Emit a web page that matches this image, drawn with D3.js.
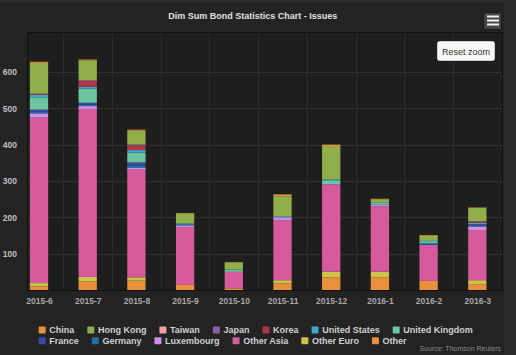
<!DOCTYPE html>
<html>
<head>
<meta charset="utf-8">
<script src="https://cdn.jsdelivr.net/npm/d3@7"></script>
<style>
  html, body { margin: 0; padding: 0; background: #2b2b2b; }
  svg { display: block; font-family: "Liberation Sans", Arial, sans-serif; }
</style>
</head>
<body>
<svg id="chart" width="516" height="355"></svg>
<script>
// ---- data ----
const categories = ["2015-6","2015-7","2015-8","2015-9","2015-10","2015-11","2015-12","2016-1","2016-2","2016-3"];
const seriesNames = ["China","Hong Kong","Taiwan","Japan","Korea","United States","United Kingdom","France","Germany","Luxembourg","Other Asia","Other Euro","Other"];
const seriesColors = ["#e8923a","#90ae4a","#f0a0a0","#8a5fa8","#b0344a","#3fa7c9","#6cc4a0","#3a4aa8","#1f6f9f","#d08ee8","#d45a9c","#cdc24a","#e8913a"];
const china        = [3, 2, 3, 1, 1, 5, 4, 1, 2, 1];
const hongKong     = [85, 55, 38, 28, 20, 55, 92, 9, 14, 37];
const taiwan       = [0, 0, 0, 0, 0, 0, 0, 0, 0, 0];
const japan        = [0, 2, 2, 0, 0, 0, 0, 0, 0, 0];
const korea        = [3, 16, 13, 0, 0, 0, 0, 0, 0, 4];
const unitedStates = [7, 5, 7, 3, 1, 3, 4, 0, 3, 4];
const unitedKingdom= [34, 39, 27, 0, 5, 0, 9, 6, 4, 0];
const france       = [6, 5, 8, 1, 0, 0, 0, 0, 4, 3];
const germany      = [4, 4, 6, 1, 0, 0, 0, 0, 0, 3];
const luxembourg   = [12, 8, 6, 5, 0, 8, 0, 5, 2, 10];
const otherAsia    = [455, 462, 296, 159, 45, 165, 241, 180, 97, 138];
const otherEuro    = [9, 12, 9, 0, 1, 9, 15, 15, 0, 11];
const other        = [10, 24, 26, 14, 4, 18, 35, 35, 25, 16];
const yTicks = [100, 200, 300, 400, 500, 600];
const titleText = "Dim Sum Bond Statistics Chart - Issues";
const sourceText = "Source: Thomson Reuters";

const seriesValues = [china, hongKong, taiwan, japan, korea, unitedStates, unitedKingdom, france, germany, luxembourg, otherAsia, otherEuro, other];

// build table for stacking
const table = categories.map((c, i) => {
  const row = { cat: c, idx: i };
  seriesNames.forEach((s, k) => row[s] = seriesValues[k][i]);
  return row;
});
// reversed stacks: last series at bottom
const stackOrder = seriesNames.slice().reverse();
const stacked = d3.stack().keys(stackOrder)(table);

const svg = d3.select("#chart");
const W = 516, H = 355;
const plot = { left: 28, right: 502, top: 33, bottom: 290 };

// backgrounds
svg.append("rect").attr("x", 0).attr("y", 0).attr("width", W).attr("height", H).attr("fill", "#2b2b2b");
svg.append("rect").attr("x", 0).attr("y", 3).attr("width", 504).attr("height", H - 3).attr("fill", "#232323");
svg.append("rect").attr("x", plot.left).attr("y", plot.top)
  .attr("width", plot.right - plot.left).attr("height", plot.bottom - plot.top)
  .attr("fill", "#1e1e1e");

const x = d3.scaleLinear().domain([-0.226, 9.507]).range([plot.left, plot.right]);
const y = d3.scaleLinear().domain([0, 707]).range([plot.bottom, plot.top]);
const barW = 18.3;

const clip = svg.append("clipPath").attr("id", "pc").append("rect")
  .attr("x", plot.left).attr("y", plot.top).attr("width", plot.right - plot.left).attr("height", plot.bottom - plot.top);

// grid lines
const grid = svg.append("g");
grid.selectAll("line.h").data(yTicks).enter().append("line")
  .attr("x1", plot.left).attr("x2", plot.right)
  .attr("y1", d => Math.round(y(d)) + 0.5).attr("y2", d => Math.round(y(d)) + 0.5)
  .attr("stroke", "#303030").attr("stroke-width", 1);
const boundaries = d3.range(0, categories.length - 1).map(i => i + 0.5);
grid.selectAll("line.v").data(boundaries).enter().append("line")
  .attr("y1", plot.top).attr("y2", plot.bottom)
  .attr("x1", d => Math.round(x(d)) + 0.5).attr("x2", d => Math.round(x(d)) + 0.5)
  .attr("stroke", "#2c2c2c").attr("stroke-width", 1);

// bars
const colorOf = d3.scaleOrdinal().domain(seriesNames).range(seriesColors);
const bars = svg.append("g").attr("clip-path", "url(#pc)");
bars.selectAll("g").data(stacked).enter().append("g")
  .attr("fill", d => colorOf(d.key))
  .selectAll("rect").data(d => d).enter().append("rect")
  .attr("x", d => x(d.data.idx) - barW / 2)
  .attr("width", barW)
  .attr("y", d => y(d[1]))
  .attr("height", d => Math.max(0, y(d[0]) - y(d[1])));

// plot border
svg.append("rect").attr("x", plot.left - 0.5).attr("y", plot.top - 0.5)
  .attr("width", plot.right - plot.left + 1).attr("height", plot.bottom - plot.top + 1)
  .attr("fill", "none").attr("stroke", "#111").attr("stroke-width", 1);

// y axis labels
const yAxis = d3.axisLeft(y).tickValues(yTicks).tickSize(0).tickPadding(0);
const gy = svg.append("g").attr("transform", "translate(17,0)").call(yAxis);
gy.select(".domain").remove();
gy.selectAll("text").attr("fill", "#c0c0c0").attr("font-size", "8.5px").attr("font-weight", "bold")
  .attr("font-family", "Liberation Sans, Arial, sans-serif").attr("dy", "0.35em");

// x axis labels
const xAxis = d3.axisBottom(x).tickValues(d3.range(categories.length)).tickFormat(i => categories[i]).tickSize(0).tickPadding(0);
const gx = svg.append("g").attr("transform", "translate(0,298)").call(xAxis);
gx.select(".domain").remove();
gx.selectAll("text").attr("fill", "#a8a8a8").attr("font-size", "8.5px").attr("font-weight", "bold")
  .attr("font-family", "Liberation Sans, Arial, sans-serif").attr("dy", "0.71em");

// title
svg.append("text").attr("x", 252.7).attr("y", 19).attr("text-anchor", "middle")
  .attr("fill", "#e0e0e0").attr("font-size", "9px").attr("font-weight", "bold").text(titleText);

// menu button
const menu = svg.append("g");
menu.append("rect").attr("x", 483.5).attr("y", 12.5).attr("width", 18).attr("height", 17).attr("rx", 2)
  .attr("fill", "#444").attr("stroke", "#1a1a1a");
[16.5, 20.5, 24.5].forEach(yy => menu.append("line").attr("x1", 487).attr("x2", 499).attr("y1", yy).attr("y2", yy)
  .attr("stroke", "#f0f0f0").attr("stroke-width", 2));

// reset zoom button
svg.append("rect").attr("x", 437.5).attr("y", 41.5).attr("width", 57).attr("height", 19).attr("rx", 2)
  .attr("fill", "#f7f7f7").attr("stroke", "#ccc");
svg.append("text").attr("x", 466).attr("y", 54.5).attr("text-anchor", "middle")
  .attr("fill", "#333").attr("font-size", "9px").text("Reset zoom");

// legend (flow layout)
const legend = svg.append("g");
let lx = 38.7, row = 0;
const rowY = [330, 340.7], maxX = 490, itemGap = 13;
seriesNames.forEach((name, k) => {
  const t = legend.append("text").attr("font-size", "9px").attr("font-weight", "bold")
    .attr("fill", "#d0d0d0").text(name);
  const w = t.node().getComputedTextLength();
  if (lx + 10.6 + w > maxX) { row++; lx = 38.7; }
  const cy = rowY[row];
  legend.append("rect").attr("x", lx).attr("y", cy - 3.5).attr("width", 7).attr("height", 7).attr("rx", 1)
    .attr("fill", seriesColors[k]);
  t.attr("x", lx + 10.6).attr("y", cy + 3.2);
  lx = lx + 10.6 + w + itemGap;
});

// source credit
svg.append("text").attr("x", 501).attr("y", 351).attr("text-anchor", "end")
  .attr("fill", "#8a8a8a").attr("font-size", "7px").text(sourceText);
</script>
</body>
</html>
